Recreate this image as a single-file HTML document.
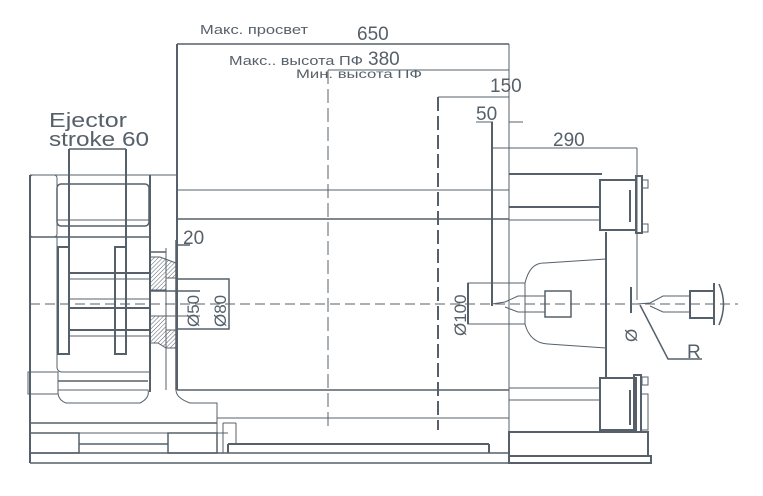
<!DOCTYPE html>
<html><head><meta charset="utf-8"><style>
html,body{margin:0;padding:0;background:#fff;}
svg{display:block;}
text{font-family:"Liberation Sans","DejaVu Sans",sans-serif;fill:#56606a;}
</style></head><body>
<svg width="763" height="496" viewBox="0 0 763 496" xmlns="http://www.w3.org/2000/svg">
<defs>
<pattern id="h" width="3" height="3" patternUnits="userSpaceOnUse" patternTransform="rotate(45)">
<line x1="0" y1="0" x2="0" y2="3" stroke="#56606a" stroke-width="1"/></pattern>
</defs>
<g stroke="#56606a" fill="none" stroke-width="1">
<line x1="177" y1="44" x2="509" y2="44" stroke-width="1.5"/>
<line x1="328" y1="70" x2="509" y2="70"/>
<line x1="438" y1="97" x2="509" y2="97"/>
<line x1="476" y1="122" x2="493" y2="122"/>
<line x1="509" y1="122" x2="523" y2="122"/>
<line x1="493" y1="148" x2="637" y2="148"/>
<line x1="637" y1="148" x2="637" y2="300"/>
<line x1="509" y1="44" x2="509" y2="432"/>
<line x1="492" y1="122" x2="492" y2="306" stroke-width="2"/>
<line x1="438" y1="97" x2="438" y2="430" stroke-width="2" stroke-dasharray="14,5"/>
<line x1="328" y1="70" x2="328" y2="430" stroke-dasharray="14,5"/>
<line x1="177" y1="44" x2="177" y2="390" stroke-width="2"/>
<line x1="177" y1="190" x2="509" y2="190"/>
<line x1="177" y1="219" x2="509" y2="219" stroke-width="1.5"/>
<line x1="177" y1="390" x2="509" y2="390" stroke-width="1.5"/>
<line x1="217" y1="418" x2="509" y2="418"/>
<line x1="228" y1="444" x2="489" y2="444" stroke-width="2"/>
<line x1="489" y1="444" x2="489" y2="453" stroke-width="2"/>
<line x1="228" y1="444" x2="228" y2="453" stroke-width="2"/>
<line x1="509" y1="174" x2="602" y2="174" stroke-width="2"/>
<line x1="509" y1="207" x2="600" y2="207" stroke-width="2"/>
<line x1="509" y1="220" x2="600" y2="220"/>
<line x1="509" y1="388" x2="600" y2="388"/>
<line x1="509" y1="400" x2="600" y2="400"/>
<line x1="606" y1="232" x2="606" y2="378" stroke-width="2"/>
<rect x="600" y="180" width="36" height="50" stroke-width="2"/>
<rect x="636" y="176" width="6" height="57" stroke-width="2"/>
<rect x="642" y="180" width="6" height="8"/><rect x="642" y="224" width="6" height="8"/>
<line x1="630" y1="190" x2="630" y2="222" stroke-width="2"/>
<rect x="600" y="378" width="36" height="52" stroke-width="2"/>
<rect x="634" y="375" width="7" height="57" stroke-width="2"/>
<rect x="642" y="377" width="6" height="8"/><rect x="641" y="394" width="7" height="36"/>
<line x1="630" y1="390" x2="630" y2="425" stroke-width="2"/>
<rect x="509" y="432" width="139" height="24" stroke-width="2"/>
<rect x="509" y="456" width="142" height="7" stroke-width="2"/>
<path d="M525 283 Q530 262 545 263 L606 259"/>
<path d="M525 324 Q530 343 548 344 L606 348"/>
<rect x="468" y="283" width="57" height="41"/>
<line x1="468" y1="283" x2="468" y2="324" stroke-width="2"/>
<path d="M492 304 L505 302 L518 296 L545 296 L545 312 L518 312 L505 307"/>
<rect x="545" y="291" width="26" height="26" stroke-width="1.5"/>
<line x1="631" y1="287" x2="631" y2="313" stroke-width="2"/>
<path d="M637 304 L650 303 L663 296 L690 296 L690 312 L663 312 L650 306"/>
<rect x="690" y="291" width="24" height="27" stroke-width="2"/>
<line x1="714" y1="283" x2="714" y2="325" stroke-width="2"/>
<path d="M719 284 Q728 304 719 325" stroke-width="1.5"/>
<path d="M640 305 L668 359 L702 359" stroke-width="1.5"/>
<line x1="30" y1="304" x2="738" y2="304" stroke-dasharray="10,5"/>
<line x1="69" y1="149" x2="126" y2="149" stroke-width="1.5"/>
<line x1="69" y1="149" x2="69" y2="354" stroke-width="2"/>
<line x1="126" y1="149" x2="126" y2="354" stroke-width="2"/>
<rect x="58" y="247" width="11" height="107" stroke-width="2"/>
<rect x="115" y="247" width="11" height="107" stroke-width="2"/>
<line x1="69" y1="273" x2="150" y2="273" stroke-width="2"/><line x1="69" y1="279" x2="150" y2="279"/>
<line x1="69" y1="299" x2="150" y2="299"/><line x1="69" y1="308" x2="150" y2="308" stroke-width="2"/>
<line x1="69" y1="330" x2="150" y2="330" stroke-width="2"/><line x1="69" y1="336" x2="150" y2="336"/>
<line x1="30" y1="175" x2="177" y2="175"/>
<line x1="30" y1="175" x2="30" y2="463" stroke-width="2"/>
<rect x="30" y="175" width="27" height="62" rx="3"/>
<rect x="57" y="184" width="92" height="42" rx="4" stroke-width="1.5"/>
<line x1="57" y1="220" x2="149" y2="220"/>
<line x1="30" y1="237" x2="150" y2="237" stroke-width="1.5"/>
<line x1="150" y1="175" x2="150" y2="392" stroke-width="2"/>
<line x1="57" y1="237" x2="57" y2="368"/>
<path d="M57 368 Q58 372 62 372 L150 372"/>
<rect x="28" y="372" width="30" height="22"/>
<line x1="58" y1="381" x2="148" y2="381" stroke-width="1.5"/>
<path d="M58 390 L148 390 Q150 398 140 403 L66 403 Q58 400 58 392"/>
<line x1="166" y1="248" x2="166" y2="390"/>
<line x1="176" y1="240" x2="176" y2="390" stroke-width="1.5"/>
<path d="M176 390 Q176 398 190 403 L217 403 L217 423"/>
<line x1="150" y1="252" x2="166" y2="252" stroke-width="1.5"/>
<path d="M150 257 L160 257 L176 263 L176 278 L166 278 L166 290 L150 290 Z" fill="url(#h)"/>
<path d="M150 316 L166 316 L166 330 L176 330 L176 348 L166 348 L158 343 L150 343 Z" fill="url(#h)"/>
<line x1="150" y1="291" x2="200" y2="291" stroke-width="1.5"/>
<line x1="150" y1="316" x2="200" y2="316"/>
<rect x="177" y="279" width="52" height="50" stroke-width="1.5"/>
<line x1="177" y1="245" x2="190" y2="245" stroke-width="1.5"/>
<line x1="30" y1="423" x2="217" y2="423" stroke-width="1.5"/>
<line x1="30" y1="433" x2="228" y2="433"/>
<line x1="79" y1="444" x2="168" y2="444" stroke-width="1.5"/>
<rect x="30" y="433" width="49" height="20" stroke-width="1.5"/>
<rect x="168" y="433" width="49" height="20" stroke-width="1.5"/>
<line x1="217" y1="418" x2="217" y2="453"/>
<line x1="223" y1="423" x2="223" y2="453"/>
<line x1="223" y1="423" x2="236" y2="423"/><line x1="236" y1="423" x2="236" y2="444"/>
<line x1="30" y1="453" x2="509" y2="453" stroke-width="1.5"/>
<line x1="30" y1="463" x2="651" y2="463" stroke-width="1.5"/>
</g>
<g>
<text x="200" y="34" font-size="13" textLength="108" lengthAdjust="spacingAndGlyphs">Макс. просвет</text>
<text x="357" y="40" font-size="19">650</text>
<text x="229" y="65" font-size="13" textLength="134" lengthAdjust="spacingAndGlyphs">Макс.. высота ПФ</text>
<text x="368" y="65" font-size="19">380</text>
<text x="296" y="78" font-size="12" textLength="126" lengthAdjust="spacingAndGlyphs">Мин. высота ПФ</text>
<text x="490" y="92" font-size="19">150</text>
<text x="476" y="120" font-size="19">50</text>
<text x="553" y="146" font-size="19">290</text>
<text x="49" y="127" font-size="20" textLength="78" lengthAdjust="spacingAndGlyphs">Ejector</text>
<text x="49" y="146" font-size="20" textLength="100" lengthAdjust="spacingAndGlyphs">stroke 60</text>
<text x="183" y="244" font-size="19">20</text>
<text x="687" y="358" font-size="19">R</text>
<text font-size="17" transform="translate(199,327) rotate(-90)">Ø50</text>
<text font-size="17" transform="translate(226,327) rotate(-90)">Ø80</text>
<text font-size="17" transform="translate(466,336) rotate(-90)">Ø100</text>
<text font-size="17" transform="translate(637,342) rotate(-90)">Ø</text>
</g>
</svg>
</body></html>
